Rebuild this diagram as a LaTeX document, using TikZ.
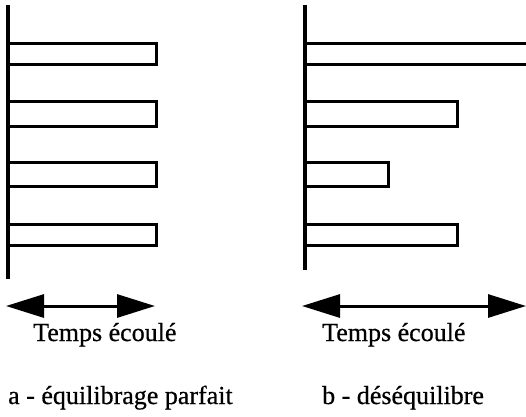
\documentclass[tikz,border=0pt]{standalone}
\usepackage{fontspec}
\setmainfont{Liberation Serif}
\newfontfamily\heavyserif{Liberation Serif}[FakeBold=0.6]
\usetikzlibrary{arrows.meta}
\begin{document}
\begin{tikzpicture}[x=1pt,y=-1pt,
  axis/.style={line width=3.2pt},
  bar/.style={line width=3pt},
  dbl/.style={line width=3pt,{Triangle[length=38pt,width=23pt]}-{Triangle[length=38pt,width=23pt]}},
  lbl/.style={anchor=base west,inner sep=0pt,font=\heavyserif\fontsize{26}{30}\selectfont}]
\useasboundingbox (0,0) rectangle (526,416);
% left panel
\draw[axis] (8,5) -- (8,279);
\foreach \t/\b in {43/64,101/126,162/186,224/245}
  \draw[bar] (8,\t) rectangle (156,\b);
% right panel
\draw[axis] (305,5) -- (305,270);
\draw[bar] (305,43) -- (528,43);
\draw[bar] (305,64) -- (528,64);
\draw[bar] (305,101) rectangle (457,126);
\draw[bar] (305,162) rectangle (388,186);
\draw[bar] (305,224) rectangle (457,245);
% arrows
\coordinate (al) at (6,306);
\coordinate (ar) at (155,306);
\coordinate (bl) at (302,306);
\coordinate (br) at (526,306);
\draw[dbl] (al) -- (ar);
\draw[dbl] (bl) -- (br);
% labels
\node[lbl] (ta) at (33,341) {Temps écoulé};
\node[lbl] (tb) at (322,341) {Temps écoulé};
\node[lbl] (ca) at (8,404) {a - équilibrage parfait};
\node[lbl] (cb) at (322,404) {b - déséquilibre};
\end{tikzpicture}
\end{document}
